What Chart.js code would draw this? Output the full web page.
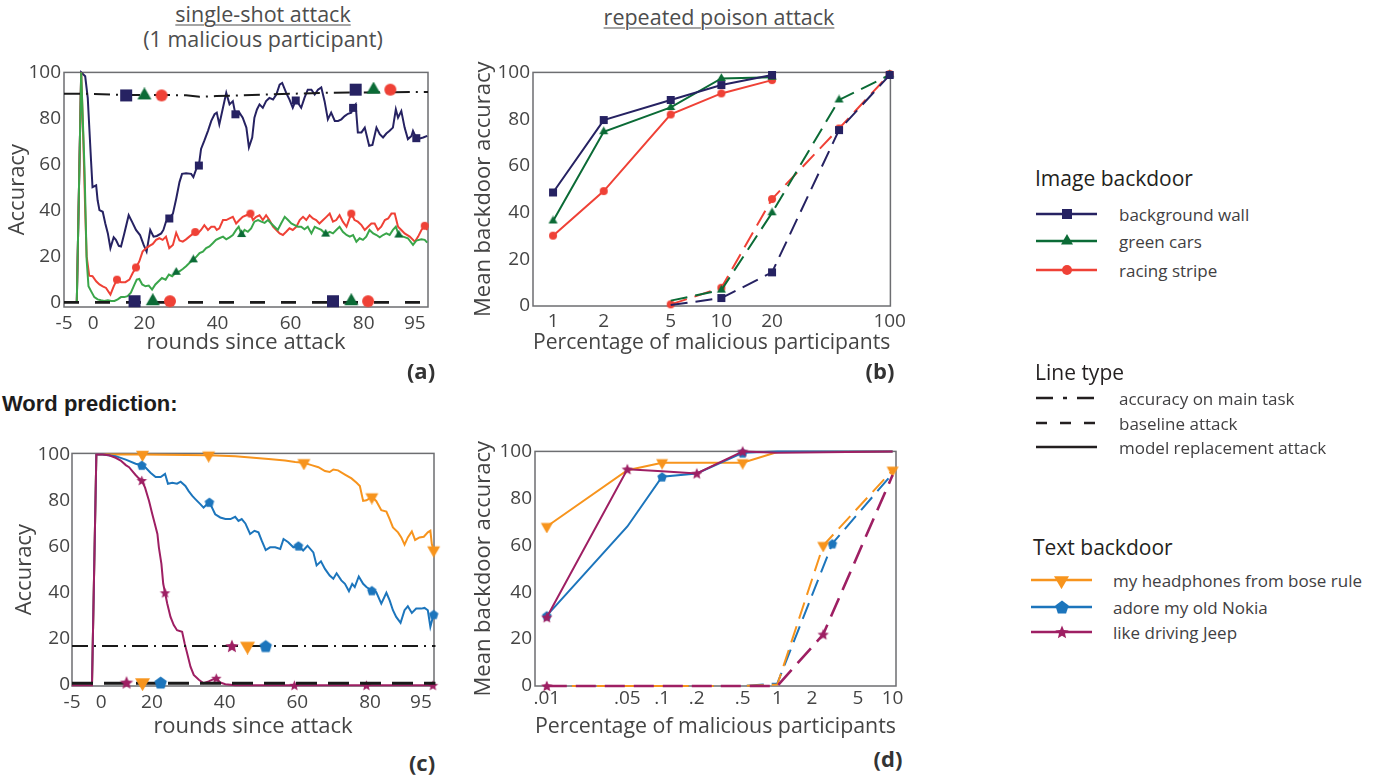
<!DOCTYPE html>
<html>
<head>
<meta charset="utf-8">
<script src="https://cdn.jsdelivr.net/npm/chart.js@4.4.1/dist/chart.umd.min.js"></script>
<style>
  body { margin: 0; width: 1379px; height: 776px; background: #fff; position: relative; overflow: hidden;
         font-family: "Open Sans", sans-serif; color: #4d4d4d; }
  canvas { position: absolute; }
  .c { position: absolute; white-space: nowrap; transform: translate(-50%, -50%); }
  .l { position: absolute; white-space: nowrap; transform: translateY(-50%); }
  .u { text-decoration: underline; text-decoration-thickness: 1px; text-underline-offset: 3px; }
</style>
</head>
<body>
<script>
// ---------- data ----------
// (a) single-shot, image backdoors: [round, accuracy]
const wallShot = [[1.5,0],[2.7,100],[3.8,98.3],[4.5,88.9],[5.4,61.6],[5.8,50.1],[6.8,50.9],[7.2,44.4],[7.7,40.1],[8.6,39.4],[9.3,34.3],[10.0,30.0],[10.7,23.6],[11.6,28.3],[12.2,27.2],[13.0,24.6],[13.6,24.3],[14.5,30.0],[15.7,37.9],[16.6,35.1],[17.7,31.5],[18.8,29.3],[19.8,25.0],[20.6,22.1],[21.6,31.5],[22.5,28.6],[23.4,28.9],[24.6,30.0],[25.2,31.5],[25.9,35.1],[26.8,36.5],[27.8,38.6],[28.7,45.1],[29.6,52.3],[30.3,55.9],[31.4,56.2],[32.8,55.9],[33.4,54.5],[34.2,58.0],[34.9,59.5],[35.5,66.7],[36.4,70.3],[37.4,74.6],[38.3,78.9],[39.2,81.8],[39.8,82.5],[40.5,77.4],[41.5,84.6],[42.4,91.1],[43.3,86.1],[44.2,87.5],[44.9,81.8],[45.6,81.0],[46.0,82.5],[46.9,80.3],[47.9,76.0],[48.6,67.4],[49.5,71.7],[50.1,80.3],[50.8,83.9],[51.5,86.1],[52.4,84.6],[53.3,87.5],[54.2,88.9],[55.2,88.2],[56.1,90.4],[57.0,94.7],[57.7,95.4],[58.8,91.1],[59.7,88.2],[60.6,84.6],[61.4,87.8],[62.0,86.8],[62.9,84.6],[63.8,88.9],[64.7,92.5],[65.7,92.5],[66.6,90.4],[67.5,92.5],[68.4,93.5],[69.3,87.5],[70.2,79.6],[71.1,82.5],[72.1,78.9],[73.0,78.9],[73.9,79.6],[74.8,81.0],[75.7,82.0],[76.6,82.5],[77.1,84.6],[77.8,86.1],[78.4,73.9],[79.4,73.9],[80.3,76.0],[81.5,68.1],[82.4,68.5],[83.5,76.0],[84.4,73.1],[85.3,71.7],[86.2,73.4],[87.1,74.6],[88.0,76.0],[88.8,83.9],[89.4,80.3],[90.3,83.2],[91.2,76.0],[92.1,71.0],[93.1,72.4],[93.5,74.6],[94.4,71.4],[95.3,71.3],[96.3,71.7],[97.4,72.4]];
const wallShotMarks = [26.8, 34.9, 44.9, 61.4, 77.1, 94.4];

const carsShot = [[1.5,0],[2.7,100],[3.6,58.8],[4.2,18.5],[4.7,7.0],[5.4,4.9],[6.3,2.3],[7.2,1.3],[8.1,0.9],[9.0,0.6],[10.0,0.9],[10.9,0.6],[11.8,0.6],[12.7,1.3],[13.6,2.3],[14.5,2.3],[15.4,2.7],[16.3,4.2],[17.3,7.8],[17.9,9.9],[18.6,10.2],[19.4,7.8],[20.3,7.0],[21.2,7.3],[22.1,5.6],[23.0,7.8],[23.9,9.2],[24.8,10.6],[25.8,9.9],[26.7,12.1],[27.6,11.4],[28.7,13.1],[29.6,13.5],[30.5,14.5],[31.4,15.7],[32.3,17.1],[33.4,18.5],[34.3,20.0],[35.1,21.4],[36.0,22.1],[36.9,23.6],[37.8,24.3],[38.7,25.7],[39.6,27.2],[40.5,27.9],[41.5,28.6],[42.4,27.4],[43.3,28.3],[44.2,29.3],[45.1,31.5],[45.8,32.9],[46.6,29.5],[47.4,31.5],[48.3,30.7],[49.2,32.2],[50.1,35.1],[51.1,35.8],[52.0,35.1],[52.9,34.6],[53.8,35.8],[54.7,34.3],[55.6,32.9],[56.5,31.5],[57.4,34.3],[58.4,37.2],[59.3,35.8],[60.2,34.3],[61.1,33.6],[62.0,32.9],[62.9,32.9],[63.8,31.8],[64.7,32.9],[65.7,30.0],[66.6,32.9],[67.5,32.2],[68.4,31.5],[69.6,29.7],[70.7,30.7],[71.6,30.0],[72.5,31.5],[73.4,32.9],[74.3,30.7],[75.3,29.3],[76.2,28.6],[77.1,29.3],[78.0,26.4],[78.9,27.9],[79.8,27.2],[80.7,28.6],[81.6,31.5],[82.6,30.0],[83.5,29.3],[84.4,28.3],[85.3,29.3],[86.2,30.0],[87.1,29.3],[88.0,31.5],[88.8,32.9],[89.6,29.3],[90.8,28.6],[92.1,27.9],[93.5,25.0],[94.4,26.9],[95.8,27.4],[96.7,27.2],[97.4,26.0]];
const carsShotMarks = [28.7, 33.4, 46.6, 69.6, 89.6];

const stripeShot = [[1.5,0],[2.7,100],[3.3,70],[3.8,40],[4.2,20],[4.9,11.6],[5.8,11.4],[6.8,9.2],[7.7,7.8],[8.6,7.0],[9.5,6.3],[10.7,3.4],[11.6,7.0],[12.5,9.9],[13.6,8.8],[14.8,8.8],[15.9,9.9],[16.8,12.8],[17.7,15.2],[18.6,17.8],[19.5,22.1],[20.5,23.6],[21.4,24.6],[22.3,25.4],[23.2,27.2],[24.1,27.9],[25.0,27.2],[25.9,28.6],[26.8,23.6],[27.8,25.0],[28.7,30.3],[29.6,26.9],[30.5,26.4],[31.4,27.4],[32.3,28.6],[33.9,30.6],[34.6,30.0],[35.5,31.5],[36.4,33.6],[37.4,31.5],[38.3,32.9],[39.2,32.9],[39.8,31.5],[40.5,32.2],[41.5,35.8],[42.4,35.8],[43.3,36.5],[44.2,37.2],[45.1,34.3],[46.0,35.8],[46.9,37.2],[47.9,37.9],[49.0,38.6],[49.7,35.8],[50.6,37.2],[51.5,37.9],[52.4,35.8],[53.3,37.9],[54.2,35.8],[55.2,32.9],[56.1,31.5],[57.0,30.0],[57.9,29.3],[58.8,30.7],[59.7,32.2],[60.6,31.5],[61.6,32.9],[62.5,35.8],[63.4,37.2],[64.3,35.8],[65.2,37.9],[66.1,36.5],[67.0,35.8],[67.9,34.3],[68.9,35.8],[69.8,37.2],[70.7,38.6],[71.6,35.1],[72.5,35.8],[73.4,37.9],[74.3,35.1],[75.3,32.9],[76.6,38.6],[77.5,35.8],[78.4,35.1],[79.4,33.6],[80.3,31.5],[81.2,32.9],[82.1,34.3],[83.0,34.3],[83.9,31.5],[84.8,32.9],[85.8,35.8],[86.7,36.5],[87.6,38.6],[88.5,38.6],[89.4,32.9],[90.3,31.5],[91.2,30.0],[92.6,28.6],[94.0,26.4],[94.9,28.6],[95.8,31.5],[96.7,33.3],[97.4,31.5]];
const stripeShotMarks = [12.5, 17.7, 33.9, 49.0, 76.6, 96.7];

const mainTaskA = [[-2,90.7],[4.2,90.7],[15,90.2],[31.4,90.1],[35.1,89.4],[39.6,89.7],[53.3,90.4],[71.6,91.2],[97.6,91.5]];
const baselineA = [[-2,0],[97.6,0]];
const wallMainA = [[15.0,90.0],[77.8,92.5]], carsMainA = [[20.0,90.0],[82.7,92.5]], stripeMainA = [[24.7,90.0],[87.3,92.5]];
const wallBaseA = [[17.3,0.5],[71.6,0.5]], carsBaseA = [[22.3,0.5],[76.6,0.5]], stripeBaseA = [[27.0,0.5],[81.2,0.5]];

// round axis tick positions and their printed labels (panels a, c)
const roundTicks = [-2, 6, 20, 40, 60, 80, 94];
const roundLabels = ['-5', '0', '20', '40', '60', '80', '95'];
const accTicks = [0, 20, 40, 60, 80, 100];

// (b) repeated poison, image backdoors: [% malicious, accuracy]
const pctTicksB = [1, 2, 5, 10, 20, 100];
const wallRep = [[1,48.6],[2,79.6],[5,88.2],[10,94.6],[20,98.9]];
const carsRep = [[1,36.4],[2,74.6],[5,85.0],[10,97.4],[20,97.9]];
const stripeRep = [[1,30.1],[2,49.2],[5,82.0],[10,91.0],[20,96.7]];
const wallBase = [[5,0.4],[10,3.4],[20,14.4],[50,75.3],[100,98.9]];
const carsBase = [[5,2.3],[10,6.8],[20,39.9],[50,88.2],[100,98.9]];
const stripeBase = [[5,0.7],[10,7.8],[20,45.8],[50,76.0],[100,99.3]];

// (c) single-shot, word prediction
const headShot = [[3.5,0],[4.7,100],[17.4,100],[35.6,99.7],[42.9,99.3],[52.1,98.1],[56.6,97.4],[59.4,96.8],[61.8,96.4],[63.9,95.4],[65.8,94.5],[67.6,92.8],[68.9,92.4],[69.9,93.5],[71.2,93.1],[73.1,91.3],[74.9,89.6],[76.3,87.7],[77.2,86.3],[78.1,79.8],[79.0,80.1],[80.5,81.5],[81.7,79.8],[83.1,75.8],[84.5,75.2],[85.4,71.9],[86.3,68.3],[87.7,66.1],[88.6,63.9],[89.5,60.8],[90.4,63.9],[91.5,66.5],[92.4,62.8],[93.6,63.9],[94.8,64.2],[95.9,66.1],[96.6,66.8],[97.0,61.0],[97.5,58.4]];
const headShotMarks = [17.4, 35.6, 61.8, 80.5, 97.5];
const nokiaShot = [[3.5,0],[4.7,100],[6.4,100],[10.0,99.3],[12.8,97.8],[15.5,96.0],[17.2,95.4],[18.3,94.2],[19.6,92.1],[21.0,90.2],[22.4,90.2],[23.6,91.6],[24.4,87.3],[25.6,87.7],[26.9,87.3],[27.9,88.2],[29.2,86.3],[30.1,84.1],[31.1,82.0],[32.0,80.5],[33.3,78.4],[34.2,76.9],[35.8,79.3],[37.4,74.0],[38.8,72.6],[40.2,71.9],[41.6,71.9],[42.9,72.9],[43.8,71.1],[44.7,71.9],[45.7,70.0],[47.0,65.4],[48.2,66.8],[49.3,66.1],[50.2,62.5],[51.3,58.4],[52.5,59.6],[53.9,59.6],[55.3,58.9],[56.2,63.2],[57.5,61.8],[58.9,59.6],[60.3,60.3],[61.6,58.2],[62.8,60.3],[64.4,57.4],[65.3,51.7],[66.5,53.5],[67.6,50.2],[68.9,47.3],[69.9,45.9],[70.8,48.3],[72.1,45.2],[73.1,43.7],[74.2,40.5],[75.1,43.7],[75.8,42.3],[76.9,46.9],[78.1,43.7],[79.0,42.3],[80.5,40.8],[81.7,40.1],[83.1,35.1],[84.5,39.8],[85.4,36.5],[86.3,32.2],[87.2,29.3],[88.4,26.7],[89.5,32.2],[90.4,33.9],[91.5,31.0],[92.7,32.9],[94.1,32.9],[95.0,33.2],[95.9,32.2],[96.6,25.0],[97.5,30.4]];
const nokiaShotMarks = [17.2, 35.8, 60.3, 80.5, 97.5];
const jeepShot = [[-2,-0.5],[3.5,-0.5],[4.7,100],[6.4,100],[8.2,99.7],[10.0,98.6],[11.4,97.4],[12.8,95.4],[13.7,94.5],[14.6,92.8],[15.5,91.1],[16.4,89.6],[17.2,88.7],[18.1,85.6],[19.2,79.8],[20.1,74.0],[20.8,69.7],[21.5,65.4],[21.9,59.6],[22.6,52.4],[23.1,43.7],[23.6,39.8],[24.2,35.1],[25.1,29.3],[26.0,25.7],[26.9,23.5],[28.3,22.8],[29.0,17.7],[29.7,13.4],[30.6,7.6],[31.5,4.0],[32.9,1.9],[34.2,0.4],[35.6,1.2],[36.5,1.9],[37.7,2.6],[38.8,0.7],[40.2,0],[42.9,-0.5],[59.2,-0.5],[79.0,-0.5],[97.3,-0.5]];
const jeepShotMarks = [17.2, 23.6, 37.7, 59.2, 79.0, 97.3];
const mainTaskC = [[-2,16.6],[98,16.6]];
const baselineC = [[-2,0.4],[98,0.4]];
const jeepMainC = [[42.0,16.6]], headMainC = [[46.3,16.6]], nokiaMainC = [[51.3,16.6]];
const jeepBaseC = [[13.0,0.7]], headBaseC = [[17.4,0.7]], nokiaBaseC = [[22.4,0.7]];

// (d) repeated poison, word prediction
const pctTicksD = [0.01, 0.05, 0.1, 0.2, 0.5, 1, 2, 5, 10];
const pctLabelsD = ['.01', '.05', '.1', '.2', '.5', '1', '2', '5', '10'];
const headRep = [[0.01,68.0],[0.05,92.0],[0.1,95.2],[0.2,95.2],[0.5,95.2],[1,99.7],[10,100]];
const nokiaRep = [[0.01,30.0],[0.05,68.0],[0.1,89.2],[0.2,90.6],[0.5,99.4],[1,100],[10,100]];
const jeepRep = [[0.01,29.3],[0.05,92.4],[0.1,91.5],[0.2,90.6],[0.5,100],[1,99.4],[10,100]];
const headBase = [[0.01,0],[0.5,0],[1,0.6],[2.5,59.9],[10,92.0]];
const nokiaBase = [[0.01,0],[0.5,0],[1,1.1],[3,60.7],[10,90.6]];
const jeepBase = [[0.01,0],[1,0],[2.5,22.0],[10,89.9]];

// ---------- style ----------
const FONT = "'Open Sans', sans-serif";
const NAVY = '#262262', GREEN = '#0b6b36', GREEN_A = '#3aa64a', RED = '#ef4136';
const ORANGE = '#f7941d', BLUE = '#1c75bc', PURPLE = '#9e1f63', INK = '#1a1a1a';
const DASHDOT = [16, 6, 2, 6], DASH = [17, 8];

// marker glyphs drawn into small canvases, used as point styles
function marker(shape, color, size) {
  const s = size + 2;
  const c = document.createElement('canvas');
  c.width = c.height = s;
  const g = c.getContext('2d');
  const cx = s / 2, cy = s / 2, r = size / 2;
  g.fillStyle = color;
  g.beginPath();
  if (shape === 'square') {
    g.rect(cx - r, cy - r, size, size);
  } else if (shape === 'circle') {
    g.arc(cx, cy, r, 0, Math.PI * 2);
  } else if (shape === 'up' || shape === 'down') {
    const h = size * 0.866, k = shape === 'up' ? 1 : -1;
    g.moveTo(cx, cy - k * h * 2 / 3);
    g.lineTo(cx + r, cy + k * h / 3);
    g.lineTo(cx - r, cy + k * h / 3);
  } else if (shape === 'pent') {
    for (let i = 0; i < 5; i++) {
      const a = -Math.PI / 2 + i * 2 * Math.PI / 5;
      g.lineTo(cx + r * Math.cos(a), cy + r * 1.02 * Math.sin(a) + r * 0.1);
    }
  } else if (shape === 'star') {
    for (let i = 0; i < 10; i++) {
      const a = -Math.PI / 2 + i * Math.PI / 5, rr = i % 2 ? r * 0.45 : r;
      g.lineTo(cx + rr * Math.cos(a), cy + rr * Math.sin(a) + r * 0.08);
    }
  }
  g.closePath();
  g.fill();
  return c;
}

const pts = arr => arr.map(([x, y]) => ({ x, y }));

function line(data, color, width, dash, img, marks) {
  const set = new Set(marks || []);
  return {
    data: pts(data), borderColor: color, borderWidth: width, borderDash: dash || [],
    pointStyle: img || 'circle',
    pointRadius: c => (c.raw && set.has(c.raw.x) ? 4 : 0),
    pointHoverRadius: 0, tension: 0, fill: false, clip: false
  };
}
function dots(data, img) {
  return { data: pts(data), showLine: false, pointStyle: img, pointRadius: 4, pointHoverRadius: 0, clip: false };
}

const boxPlugin = {
  id: 'box',
  beforeDatasetsDraw(chart) {
    const { ctx, chartArea: a } = chart;
    ctx.save();
    ctx.strokeStyle = '#6d6e71';
    ctx.lineWidth = 1.5;
    ctx.strokeRect(a.left, a.top, a.right - a.left, a.bottom - a.top);
    ctx.restore();
  }
};

function axis(s, horizontal, size) {
  return {
    type: s.type || 'linear', min: s.min, max: s.max,
    grid: { display: false, drawTicks: false }, border: { display: false },
    ticks: {
      autoSkip: false, maxRotation: 0, padding: s.pad, color: '#444',
      font: { family: FONT, size: 19 },
      callback: (v, i) => s.labels[i]
    },
    afterBuildTicks: sc => { sc.ticks = s.values.map(value => ({ value })); },
    afterFit: sc => { if (horizontal) sc.height = size; else sc.width = size; },
    title: { display: true, text: s.title, color: '#444', font: { family: FONT, size: 22 }, padding: 0 }
  };
}

// box = canvas extent, plot = chart area, both in page pixels
function panel(box, plot, xs, ys, datasets) {
  const cv = document.createElement('canvas');
  cv.width = box.r - box.l;
  cv.height = box.b - box.t;
  cv.style.left = box.l + 'px';
  cv.style.top = box.t + 'px';
  document.body.appendChild(cv);
  new Chart(cv, {
    type: 'line',
    data: { datasets },
    options: {
      responsive: false, animation: false, devicePixelRatio: 1,
      layout: { padding: { top: plot.t - box.t, right: box.r - plot.r, left: 0, bottom: 0 } },
      plugins: { legend: { display: false }, tooltip: { enabled: false } },
      scales: { x: axis(xs, true, box.b - plot.b), y: axis(ys, false, plot.l - box.l) }
    },
    plugins: [boxPlugin]
  });
}

function text(str, x, y, css, cls) {
  const d = document.createElement('div');
  d.className = cls || 'c';
  d.textContent = str;
  d.style.left = x + 'px';
  d.style.top = y + 'px';
  d.style.cssText += css || '';
  document.body.appendChild(d);
}

// ---------- panels ----------
const roundAxis = { min: -2, max: 97.6, values: roundTicks, labels: roundLabels, title: 'rounds since attack', pad: 5 };
const accAxis = { min: -2, max: 100, values: accTicks, labels: accTicks.map(String), title: 'Accuracy', pad: 3 };

panel({ l: 5, t: 58, r: 440, b: 356 }, { l: 64, t: 71, r: 428, b: 307 }, roundAxis, accAxis, [
  dots(wallMainA, marker('square', NAVY, 12)), dots(carsMainA, marker('up', GREEN, 14)), dots(stripeMainA, marker('circle', RED, 12)),
  dots(wallBaseA, marker('square', NAVY, 12)), dots(carsBaseA, marker('up', GREEN, 14)), dots(stripeBaseA, marker('circle', RED, 12)),
  line(mainTaskA, INK, 2, DASHDOT),
  line(baselineA, INK, 2.8, [15, 16]),
  line(carsShot, GREEN_A, 2, null, marker('up', GREEN, 9), carsShotMarks),
  line(stripeShot, RED, 2, null, marker('circle', RED, 8), stripeShotMarks),
  line(wallShot, NAVY, 2, null, marker('square', NAVY, 8), wallShotMarks)
]);

const pctAxisB = { type: 'logarithmic', min: 0.76, max: 101, values: pctTicksB, labels: pctTicksB.map(String),
  title: 'Percentage of malicious participants', pad: 4 };
const meanAxis = { min: 0, max: 100, values: accTicks, labels: accTicks.map(String), title: 'Mean backdoor accuracy', pad: 3 };
const allMarks = v => v.map(p => p[0]);

panel({ l: 471, t: 58, r: 910, b: 356 }, { l: 533, t: 72, r: 896, b: 306 }, pctAxisB, meanAxis, [
  line(wallRep, NAVY, 2, null, marker('square', NAVY, 8), allMarks(wallRep)),
  line(carsRep, GREEN, 2, null, marker('up', GREEN, 9), allMarks(carsRep)),
  line(stripeRep, RED, 2, null, marker('circle', RED, 8), allMarks(stripeRep)),
  line(wallBase, NAVY, 2, DASH, marker('square', NAVY, 8), allMarks(wallBase).slice(1)),
  line(carsBase, GREEN, 2, DASH, marker('up', GREEN, 9), allMarks(carsBase).slice(1)),
  line(stripeBase, RED, 2, DASH, marker('circle', RED, 8), allMarks(stripeBase))
]);

const accAxisC = { min: -0.8, max: 100.5, values: accTicks, labels: accTicks.map(String), title: 'Accuracy', pad: 2 };
panel({ l: 12, t: 440, r: 445, b: 740 }, { l: 72, t: 452, r: 434, b: 686 }, roundAxis, accAxisC, [
  dots(jeepMainC, marker('star', PURPLE, 14)), dots(headMainC, marker('down', ORANGE, 15)), dots(nokiaMainC, marker('pent', BLUE, 13)),
  dots(jeepBaseC, marker('star', PURPLE, 14)), dots(headBaseC, marker('down', ORANGE, 15)), dots(nokiaBaseC, marker('pent', BLUE, 13)),
  line(mainTaskC, INK, 2, DASHDOT),
  line(baselineC, INK, 3.2, [21, 11]),
  line(jeepShot, PURPLE, 2, null, marker('star', PURPLE, 11), jeepShotMarks),
  line(nokiaShot, BLUE, 2, null, marker('pent', BLUE, 10), nokiaShotMarks),
  line(headShot, ORANGE, 2, null, marker('down', ORANGE, 13), headShotMarks)
]);

const pctAxisD = { type: 'logarithmic', min: 0.0079, max: 10.7, values: pctTicksD, labels: pctLabelsD,
  title: 'Percentage of malicious participants', pad: 1 };
panel({ l: 471, t: 437, r: 910, b: 740 }, { l: 535, t: 449, r: 896, b: 686 }, pctAxisD, meanAxis, [
  line(jeepBase, PURPLE, 2.6, [20, 9], marker('star', PURPLE, 12), [0.01, 2.5]),
  line(headBase, ORANGE, 2, DASH, marker('down', ORANGE, 12), [2.5, 10]),
  line(nokiaBase, BLUE, 2, DASH, marker('pent', BLUE, 10), [3]),
  line(jeepRep, PURPLE, 2, null, marker('star', PURPLE, 12), [0.01, 0.05, 0.2, 0.5]),
  line(nokiaRep, BLUE, 2, null, marker('pent', BLUE, 10), [0.01, 0.1, 0.5]),
  line(headRep, ORANGE, 2, null, marker('down', ORANGE, 12), [0.01, 0.1, 0.5])
]);

// ---------- titles and labels ----------
text('single-shot attack', 263, 13, 'font-size:21.5px;', 'c u');
text('(1 malicious participant)', 263, 38, 'font-size:21.5px;');
text('repeated poison attack', 719, 16, 'font-size:21.5px;', 'c u');
text('Word prediction:', 2, 404, "font:bold 22px 'Liberation Sans',Arial,sans-serif;color:#1d1d1d;", 'l');
[['(a)', 421, 370], ['(b)', 880, 370], ['(c)', 422, 762], ['(d)', 888, 758]].forEach(([s, x, y]) =>
  text(s, x, y, 'font-size:22px;font-weight:bold;color:#333;'));

// ---------- legend ----------
function icon(x0, x1, y, color, width, dash, img) {
  const c = document.createElement('canvas');
  c.width = x1 - x0 + 20;
  c.height = 24;
  c.style.left = (x0 - 10) + 'px';
  c.style.top = (y - 12) + 'px';
  const g = c.getContext('2d');
  g.strokeStyle = color;
  g.lineWidth = width;
  g.setLineDash(dash || []);
  g.beginPath();
  g.moveTo(10, 12);
  g.lineTo(c.width - 10, 12);
  g.stroke();
  if (img) g.drawImage(img, Math.round(c.width / 2 - img.width / 2), Math.round(12 - img.height / 2));
  document.body.appendChild(c);
}
const head = 'font-size:21px;color:#231f20;';
const item = 'font-size:17px;color:#414042;';

text('Image backdoor', 1035, 178, head, 'l');
[['background wall', NAVY, marker('square', NAVY, 10), 214],
 ['green cars', GREEN, marker('up', GREEN, 12), 241],
 ['racing stripe', RED, marker('circle', RED, 10), 270]].forEach(([s, col, img, y]) => {
  icon(1036, 1097, y, col, 2.5, null, img);
  text(s, 1119, y, item, 'l');
});

text('Line type', 1035, 372, head, 'l');
[['accuracy on main task', [17, 10, 4, 10], 398],
 ['baseline attack', [11, 13], 423],
 ['model replacement attack', [], 447]].forEach(([s, dash, y]) => {
  icon(1036, 1097, y, '#231f20', 2.7, dash);
  text(s, 1119, y, item, 'l');
});

text('Text backdoor', 1033, 547, head, 'l');
[['my headphones from bose rule', ORANGE, marker('down', ORANGE, 15), 580],
 ['adore my old Nokia', BLUE, marker('pent', BLUE, 14), 607],
 ['like driving Jeep', PURPLE, marker('star', PURPLE, 14), 632]].forEach(([s, col, img, y]) => {
  icon(1031, 1092, y, col, 2.5, null, img);
  text(s, 1113, y, item, 'l');
});
</script>
</body>
</html>
